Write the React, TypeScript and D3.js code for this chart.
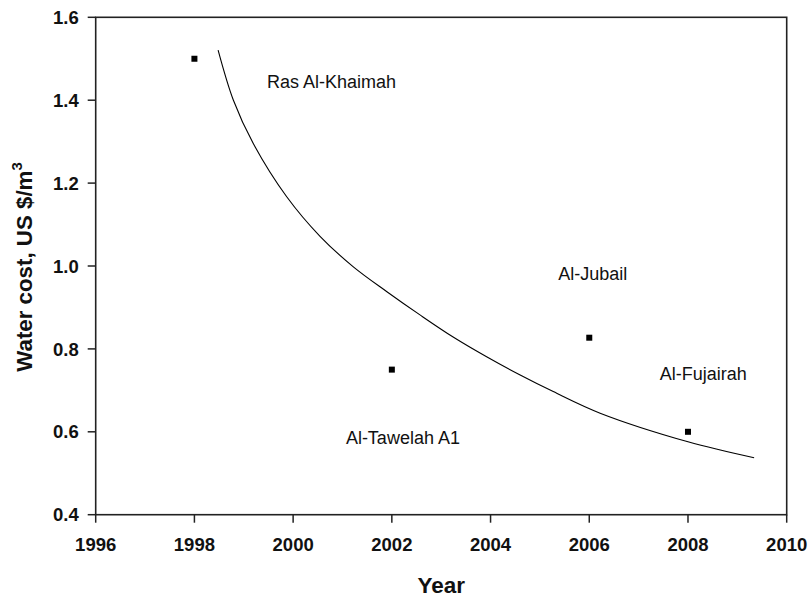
import { useMemo } from 'react';
import * as d3 from 'd3';

// plant data points
const years = [1998, 2002, 2006, 2008];
const costs = [1.5, 0.75, 0.827, 0.6];

// fitted trend line
const fitYears = [1998.48, 1998.79, 1999.19, 1999.87, 2000.55, 2001.22, 2001.9, 2002.57, 2003.25, 2003.92, 2004.6, 2005.27, 2006.22, 2008.0, 2009.34];
const fitCosts = [1.521, 1.4, 1.296, 1.167, 1.071, 0.998, 0.938, 0.882, 0.828, 0.781, 0.737, 0.697, 0.645, 0.576, 0.5375];

const plantNames = ['Ras Al-Khaimah', 'Al-Tawelah A1', 'Al-Jubail', 'Al-Fujairah'];
const nameYears = [1999.47, 2003.38, 2005.37, 2007.43];
const nameCosts = [1.445, 0.585, 0.981, 0.739];
const nameAnchor = ['start', 'end', 'start', 'start'];

const xTicks = [1996, 1998, 2000, 2002, 2004, 2006, 2008, 2010];
const yTicks = [0.4, 0.6, 0.8, 1.0, 1.2, 1.4, 1.6];

const W = 812;
const H = 598;
const plot = { left: 95.7, right: 786.7, top: 17.3, bottom: 514.7 };

export default function App() {
	const xScale = useMemo(
		() => d3.scaleLinear().domain([1996, 2010]).range([plot.left, plot.right]),
		[],
	);
	const yScale = useMemo(
		() => d3.scaleLinear().domain([0.4, 1.6]).range([plot.bottom, plot.top]),
		[],
	);

	const fitLine = d3
		.line<number>()
		.x((d) => xScale(d))
		.y((_, i) => yScale(fitCosts[i]))
		.curve(d3.curveCatmullRom.alpha(0.5));

	const axisColor = '#222';
	const font = '"Liberation Sans", Arial, sans-serif';

	return (
		<svg
			width={W}
			height={H}
			style={{ position: 'absolute', left: 0, top: 0, background: '#fff' }}
			fontFamily={font}
		>
			{/* frame */}
			<rect
				x={plot.left}
				y={plot.top}
				width={plot.right - plot.left}
				height={plot.bottom - plot.top}
				fill="none"
				stroke={axisColor}
				strokeWidth={1.6}
			/>

			{/* x ticks */}
			{xTicks.map((t) => (
				<g key={t} transform={`translate(${xScale(t)},${plot.bottom})`}>
					<line y1={0} y2={8} stroke={axisColor} strokeWidth={1.5} />
					<text
						y={36}
						textAnchor="middle"
						fontSize={18.5}
						fontWeight="bold"
						fill="#111"
					>
						{t}
					</text>
				</g>
			))}

			{/* y ticks */}
			{yTicks.map((t) => (
				<g key={t} transform={`translate(${plot.left},${yScale(t)})`}>
					<line x1={-8} x2={0} stroke={axisColor} strokeWidth={1.5} />
					<text
						x={-17}
						y={6.6}
						textAnchor="end"
						fontSize={18.5}
						fontWeight="bold"
						fill="#111"
					>
						{t.toFixed(1)}
					</text>
				</g>
			))}

			{/* trend line */}
			<path
				d={fitLine(fitYears) ?? ''}
				fill="none"
				stroke="#000"
				strokeWidth={1.1}
			/>

			{/* points */}
			{years.map((yr, i) => (
				<rect
					key={yr}
					x={xScale(yr) - 3}
					y={yScale(costs[i]) - 3}
					width={6}
					height={6}
					fill="#000"
				/>
			))}

			{/* plant names */}
			{plantNames.map((n, i) => (
				<text
					key={n}
					x={xScale(nameYears[i])}
					y={yScale(nameCosts[i]) + 6.3}
					textAnchor={nameAnchor[i]}
					fontSize={18}
					fill="#111"
				>
					{n}
				</text>
			))}

			{/* axis titles */}
			<text
				x={(plot.left + plot.right) / 2}
				y={593}
				textAnchor="middle"
				fontSize={22.5}
				fontWeight="bold"
				fill="#111"
			>
				Year
			</text>
			<text
				transform={`translate(31.5,${(plot.top + plot.bottom) / 2 + 1}) rotate(-90)`}
				textAnchor="middle"
				fontSize={22.3}
				fontWeight="bold"
				fill="#111"
			>
				Water cost, US $/m
				<tspan dy={-10} fontSize={15}>
					3
				</tspan>
			</text>
		</svg>
	);
}
